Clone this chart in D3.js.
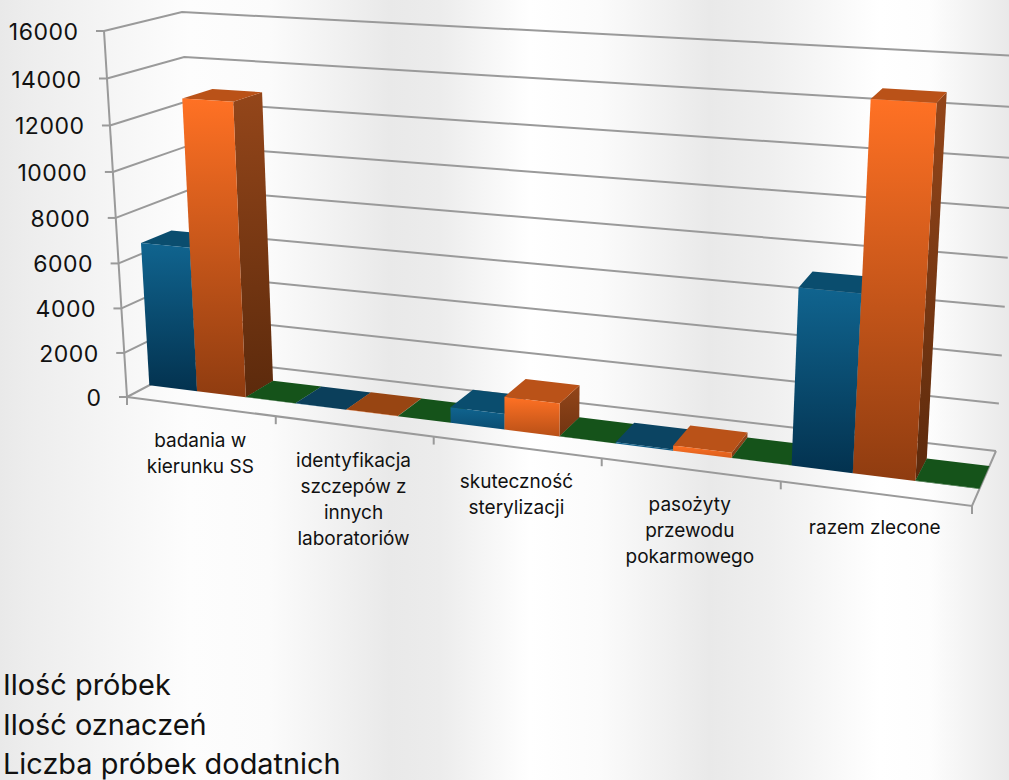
<!DOCTYPE html>
<html><head><meta charset="utf-8">
<script src="https://cdn.jsdelivr.net/npm/d3@7"></script>
<style>html,body{margin:0;padding:0;background:#fff;overflow:hidden}svg{display:block}text{font-family:Inter,"Noto Sans",sans-serif;fill:#111}</style>
</head><body><svg id="c" width="1009" height="780"></svg>
<script>
const categories = [
  ["badania w","kierunku SS"],
  ["identyfikacja","szczepów z","innych","laboratoriów"],
  ["skuteczność","sterylizacji"],
  ["pasożyty","przewodu","pokarmowego"],
  ["razem zlecone"]
];
const seriesNames = ["Ilość próbek","Ilość oznaczeń","Liczba próbek dodatnich"];
const probki =    [6480, 8, 680, 50, 7230];
const oznaczenia =[13000, 12, 1420, 220, 14750];
const dodatnie =  [10, 5, 5, 5, 20];
const tickValues = [0,2000,4000,6000,8000,10000,12000,14000,16000];

const W=1009,H=780;
const svg=d3.select("#c");
const defs=svg.append("defs");

// background sheen
const bgStops=[[0,"#e9e9e9"],[30,"#ededed"],[100,"#f4f4f4"],[190,"#fdfdfd"],[270,"#fbfbfb"],[390,"#e9e9e9"],[440,"#ececec"],[530,"#ffffff"],[600,"#fbfbfb"],[710,"#e9e9e9"],[770,"#efefef"],[880,"#ffffff"],[930,"#fdfdfd"],[1009,"#e9e9e9"]];
const bg=defs.append("linearGradient").attr("id","bg").attr("gradientUnits","userSpaceOnUse").attr("x1",0).attr("x2",W).attr("y1",0).attr("y2",0);
bg.selectAll("stop").data(bgStops).join("stop").attr("offset",d=>d[0]/W).attr("stop-color",d=>d[1]);
svg.append("rect").attr("width",W).attr("height",H).attr("fill","url(#bg)");

// scales
const valueScale=d3.scaleLinear().domain([0,16000]).range([0,1]);
const catScale=d3.scaleBand().domain(d3.range(categories.length)).range([0,1]);
const slot=d3.scaleBand().domain(d3.range(3)).range([0,catScale.bandwidth()]);
const persp=(t,k)=>t/(t+(1-t)*k);
// box corners: [floor, top] for front-left, front-right, back-left, back-right
const FL=[[127,397],[104,31]],FR=[[972,506],[1000,81]],BL=[[199,359],[182,12]],BR=[[996,451],[1020,56]];
const mix=(a,b,t)=>[a[0]+(b[0]-a[0])*t,a[1]+(b[1]-a[1])*t];
function P(u,d,val){
  const fu=persp(u,1.17),fv=persp(valueScale(val),1.044);
  const fr=mix(mix(FL[0],FR[0],fu),mix(BL[0],BR[0],fu),d);
  const to=mix(mix(FL[1],FR[1],fu),mix(BL[1],BR[1],fu),d);
  return mix(fr,to,fv);
}
const line=d3.line();
const GRID="#9a9a9a";

// gridlines: left wall + back wall
const grid=svg.append("g").attr("fill","none").attr("stroke",GRID).attr("stroke-width",2);
grid.selectAll("path").data(tickValues).join("path").attr("d",v=>line([P(0,0,v),P(0,1,v),P(1,1,v)]));
// axes
const ax=svg.append("g").attr("fill","none").attr("stroke",GRID).attr("stroke-width",2);
ax.append("path").attr("d",line([P(0,0,0),P(0,0,16000)]));
ax.append("path").attr("d",line([P(1,1,0),P(1,0,0),P(0,0,0)]));
ax.selectAll(".ty").data(tickValues).join("path").attr("d",v=>{const p=P(0,0,v);return line([[p[0]-8,p[1]],p]);});
ax.selectAll(".tx").data(d3.range(6)).join("path").attr("d",i=>{const p=P(i/5,0,0);return line([p,[p[0],p[1]+8]]);});

// bars
const d0=0.31,d1=0.72;
const palette=[
 {top:"#0a4d6e",dim:"#0b3f5b",ft:"#10648f",fb:"#03324f",st:"#0a4560",sb:"#02263c"},
 {top:"#ba5218",dim:"#984512",ft:"#ff7124",fb:"#8f3c10",st:"#94461a",sb:"#5c2a0c"},
 {top:"#15531a",dim:"#15531a",ft:"#15531a",fb:"#15531a",st:"#15531a",sb:"#15531a"}
];
const depth=d3.scaleLinear().domain([0,3000]).range([0.3,1]).clamp(true);
const topShade=d3.scaleLinear().domain([20,100]).range([0,1]).clamp(true);
const barData=[];
categories.forEach((c,g)=>{[probki,oznaczenia,dodatnie].forEach((arr,s)=>{barData.push({g,s,v:arr[g]});});});
function grad(id,a,b){
  const x=defs.append("linearGradient").attr("id",id).attr("x1",0).attr("x2",0).attr("y1",0).attr("y2",1);
  x.append("stop").attr("offset",0).attr("stop-color",a);
  x.append("stop").attr("offset",1).attr("stop-color",b);
}
const bars=svg.append("g").selectAll("g").data(barData).join("g");
bars.each(function(b,i){
  const u0=catScale(b.g)+slot(b.s),u1=u0+slot.bandwidth();
  const c=palette[b.s],t=depth(b.v),sel=d3.select(this);
  const fb=d3.interpolateRgb(c.ft,c.fb)(t),sb=d3.interpolateRgb(c.st,c.sb)(t);
  grad("f"+i,c.ft,fb);grad("s"+i,c.st,sb);
  sel.append("path").attr("fill",`url(#s${i})`).attr("d",line([P(u1,d0,0),P(u1,d1,0),P(u1,d1,b.v),P(u1,d0,b.v)])+"Z");
  sel.append("path").attr("fill",d3.interpolateRgb(c.dim,c.top)(topShade(b.v))).attr("d",line([P(u0,d0,b.v),P(u1,d0,b.v),P(u1,d1,b.v),P(u0,d1,b.v)])+"Z");
  sel.append("path").attr("fill",`url(#f${i})`).attr("d",line([P(u0,d0,0),P(u1,d0,0),P(u1,d0,b.v),P(u0,d0,b.v)])+"Z");
});

// value labels
svg.append("g").selectAll("text").data(tickValues).join("text")
  .attr("text-anchor","end").attr("font-size",23).attr("letter-spacing",0.5)
  .attr("x",v=>P(0,0,v)[0]-25.5).attr("y",v=>P(0,0,v)[1]+9).text(v=>v);
// category labels
const cl=svg.append("g").selectAll("text").data(categories).join("text")
  .attr("text-anchor","middle").attr("font-size",19);
cl.each(function(lines,i){
  const p=P(catScale(i)+catScale.bandwidth()/2,0,0);
  d3.select(this).selectAll("tspan").data(lines).join("tspan").attr("x",p[0]).attr("y",(l,j)=>p[1]+41+j*26).text(l=>l);
});
// legend
svg.append("g").selectAll("text").data(seriesNames).join("text")
  .attr("x",3).attr("y",(d,i)=>695+i*39.5).attr("font-size",28.9).text(d=>d);
</script></body></html>
